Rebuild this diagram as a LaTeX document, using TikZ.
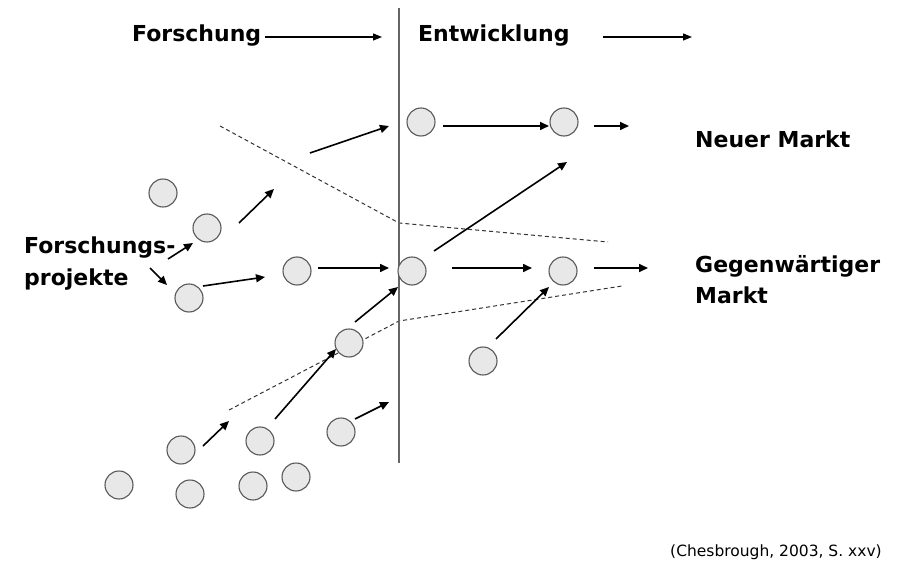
\documentclass[tikz,border=0pt]{standalone}
\usepackage{fontspec}
\setmainfont{DejaVu Sans}
\usetikzlibrary{arrows.meta}
\tikzset{
  proj/.style={circle, draw=black!65, fill=black!9, line width=1.1pt, minimum size=28pt, inner sep=0pt},
  arr/.style={line width=1.6pt, -{Triangle[length=9pt,width=8pt]}},
  harr/.style={line width=1.2pt, -{Triangle[length=9pt,width=7pt]}},
  bnd/.style={dash pattern=on 4pt off 3pt, line width=1pt, black!80},
  divider/.style={line width=1.3pt, black!60},
  lbl/.style={font=\bfseries\fontsize{22}{26}\selectfont, inner sep=0pt, anchor=base west},
  cite/.style={font=\fontsize{15.5}{18}\selectfont, inner sep=0pt, anchor=base west},
}
\begin{document}
\begin{tikzpicture}[x=1pt,y=-1pt]
\useasboundingbox[fill=white] (0,0) rectangle (902,572);

% dashed market boundaries
\coordinate (u1) at (220,126); \coordinate (u2) at (399,223); \coordinate (u3) at (608,242);
\draw[bnd] (u1) -- (u2) -- (u3);
\coordinate (l1) at (229,410); \coordinate (l2) at (340,352); \coordinate (l3) at (399,321); \coordinate (l4) at (622,286);
\draw[bnd] (l1) -- (l2) -- (l3) -- (l4);

% divider
\coordinate (dtop) at (399,8); \coordinate (dbot) at (399,463);
\draw[divider] (dtop) -- (dbot);

% projects
\foreach \n/\p in {c1/{421,122}, c2/{564,122}, c3/{163,193}, c4/{207,228}, c5/{297,271},
  c6/{189,298}, c7/{412,271}, c8/{563,271}, c9/{349,343}, c10/{483,361}, c11/{181,450},
  c12/{260,441}, c13/{341,432}, c14/{119,485}, c15/{190,494}, c16/{253,486}, c17/{296,477}}
  {\node[proj] (\n) at (\p) {};}

% arrows
\foreach \i/\s/\e in {1/{310,153}/{389,126}, 2/{443,126}/{549,126}, 3/{594,126}/{629,126},
  4/{434,251}/{567,162}, 5/{318,268}/{389,268}, 6/{452,268}/{532,268}, 7/{594,268}/{648,268},
  8/{355,322}/{398,287}, 9/{496,339}/{549,287}, 10/{239,223}/{274,189}, 11/{168,259}/{193,243},
  12/{150,268}/{167,285}, 13/{203,286}/{265,277}, 14/{203,446}/{229,421}, 15/{275,419}/{336,349},
  16/{355,419}/{389,402}}
  {\coordinate (a\i s) at (\s); \coordinate (a\i e) at (\e); \draw[arr] (a\i s) -- (a\i e);}

% headers
\node[lbl] (forsch) at (132,42) {Forschung};
\node[lbl] (entw) at (418,42) {Entwicklung};
\coordinate (h1s) at (265,37); \coordinate (h1e) at (382,37);
\coordinate (h2s) at (603,37); \coordinate (h2e) at (692,37);
\draw[harr] (h1s) -- (h1e);
\draw[harr] (h2s) -- (h2e);

% labels
\node[lbl] (fp1) at (24,254) {Forschungs-};
\node[lbl] (fp2) at (24,285) {projekte};
\node[lbl] (neu) at (695,148) {Neuer Markt};
\node[lbl] (geg1) at (695,272) {Gegenwärtiger};
\node[lbl] (geg2) at (695,303) {Markt};
\node[cite] (src) at (670,556) {(Chesbrough, 2003, S.~xxv)};
\end{tikzpicture}
\end{document}
